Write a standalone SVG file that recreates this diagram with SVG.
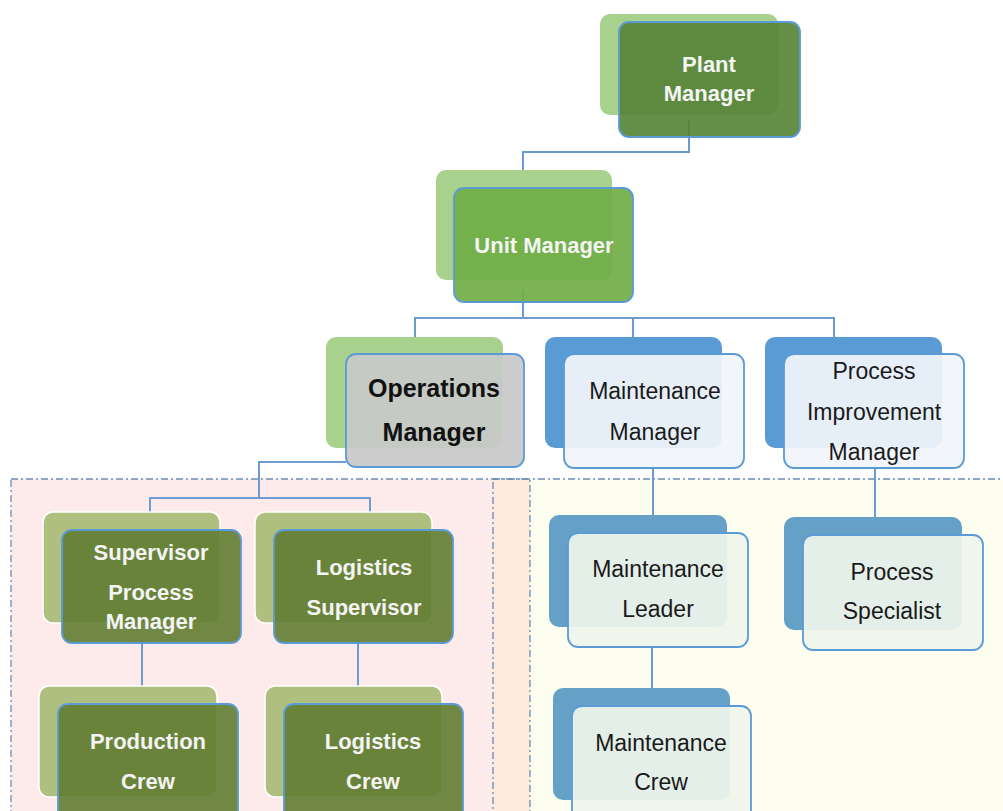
<svg xmlns="http://www.w3.org/2000/svg" width="1003" height="811" viewBox="0 0 1003 811">
<style>
.bord{stroke:#6A8DB5;stroke-width:1.3;stroke-dasharray:7 3 2 3;}
.ln{fill:none;stroke:#6B9BD0;stroke-width:2;}
.front{stroke:#5B9BD5;stroke-width:1.8;}
.bgreen{fill:#A9D18E;}
.bolive{fill:#AEBF80;stroke:#FFFFFF;stroke-width:1.5;}
.bblue{fill:#5B9BD5;}
.bblue2{fill:#65A0C7;}
.fdark{fill:#548235;fill-opacity:0.9;}
.funit{fill:#70AD47;fill-opacity:0.92;}
.fgray{fill:#C9C9C9;fill-opacity:0.92;}
.folive{fill:#627C32;fill-opacity:0.9;}
.flight{fill:#F1F5FB;fill-opacity:0.93;}
.flight2{fill:#EFF5EC;fill-opacity:0.93;}
.tw{font-family:"Liberation Sans",Arial,sans-serif;font-weight:bold;font-size:22px;fill:#F4F4F4;text-anchor:middle;}
.tb{font-family:"Liberation Sans",Arial,sans-serif;font-weight:bold;font-size:25px;fill:#111111;text-anchor:middle;}
.tr{font-family:"Liberation Sans",Arial,sans-serif;font-size:23px;fill:#1A1A1A;text-anchor:middle;}
</style>
<rect x="0" y="0" width="1003" height="811" fill="#FFFFFF"/>
<g id="regions">
<rect x="11" y="479" width="519" height="340" fill="#FDEBEB"/>
<rect x="530" y="479" width="480" height="340" fill="#FEFEF0"/>
<rect x="493" y="479" width="37" height="340" fill="#FCEADC"/>
<rect x="11" y="479" width="519" height="340" fill="none" class="bord"/>
<rect x="493" y="479" width="520" height="340" fill="none" class="bord"/>
</g>
<g id="connectors">
<polyline class="ln" points="689,120 689,152 523,152 523,172"/>
<polyline class="ln" points="523,290 523,318"/>
<polyline class="ln" points="415,339 415,318 834,318 834,339"/>
<line class="ln" x1="633" y1="318" x2="633" y2="339"/>
<polyline class="ln" points="346,462 259,462 259,498"/>
<polyline class="ln" points="150,514 150,498 370,498 370,514"/>
<line class="ln" x1="142" y1="640" x2="142" y2="688"/>
<line class="ln" x1="358" y1="640" x2="358" y2="688"/>
<line class="ln" x1="653" y1="466" x2="653" y2="516"/>
<line class="ln" x1="875" y1="466" x2="875" y2="518"/>
<line class="ln" x1="652" y1="645" x2="652" y2="690"/>
</g>
<g id="plant-manager">
<rect class="bgreen" x="600" y="14" width="178" height="101" rx="10"/>
<rect class="front fdark" x="619" y="22" width="181" height="115" rx="10"/>
<text class="tw" x="709" y="72">Plant</text>
<text class="tw" x="709" y="101">Manager</text>
</g>
<g id="unit-manager">
<rect class="bgreen" x="436" y="170" width="176" height="110" rx="10"/>
<rect class="front funit" x="454" y="188" width="179" height="114" rx="10"/>
<text class="tw" x="544" y="253">Unit Manager</text>
</g>
<g id="operations-manager">
<rect class="bgreen" x="326" y="337" width="177" height="111" rx="10"/>
<rect class="front fgray" x="346" y="354" width="178" height="113" rx="10"/>
<text class="tb" x="434" y="397">Operations</text>
<text class="tb" x="434" y="441">Manager</text>
</g>
<g id="maintenance-manager">
<rect class="bblue" x="545" y="337" width="177" height="111" rx="10"/>
<rect class="front flight" x="564" y="354" width="180" height="114" rx="10"/>
<text class="tr" x="655" y="399">Maintenance</text>
<text class="tr" x="655" y="440">Manager</text>
</g>
<g id="process-improvement-manager">
<rect class="bblue" x="765" y="337" width="177" height="111" rx="10"/>
<rect class="front flight" x="784" y="354" width="180" height="114" rx="10"/>
<text class="tr" x="874" y="379">Process</text>
<text class="tr" x="874" y="420">Improvement</text>
<text class="tr" x="874" y="460">Manager</text>
</g>
<g id="supervisor-process-manager">
<rect class="bolive" x="43" y="512" width="177" height="111" rx="10"/>
<rect class="front folive" x="62" y="530" width="179" height="113" rx="10"/>
<text class="tw" x="151" y="560">Supervisor</text>
<text class="tw" x="151" y="600">Process</text>
<text class="tw" x="151" y="629">Manager</text>
</g>
<g id="logistics-supervisor">
<rect class="bolive" x="255" y="512" width="177" height="111" rx="10"/>
<rect class="front folive" x="274" y="530" width="179" height="113" rx="10"/>
<text class="tw" x="364" y="575">Logistics</text>
<text class="tw" x="364" y="615">Supervisor</text>
</g>
<g id="production-crew">
<rect class="bolive" x="39" y="686" width="178" height="111" rx="10"/>
<rect class="front folive" x="58" y="704" width="180" height="120" rx="10"/>
<text class="tw" x="148" y="749">Production</text>
<text class="tw" x="148" y="789">Crew</text>
</g>
<g id="logistics-crew">
<rect class="bolive" x="265" y="686" width="177" height="111" rx="10"/>
<rect class="front folive" x="284" y="704" width="179" height="120" rx="10"/>
<text class="tw" x="373" y="749">Logistics</text>
<text class="tw" x="373" y="789">Crew</text>
</g>
<g id="maintenance-leader">
<rect class="bblue2" x="549" y="515" width="178" height="112" rx="10"/>
<rect class="front flight2" x="568" y="533" width="180" height="114" rx="10"/>
<text class="tr" x="658" y="577">Maintenance</text>
<text class="tr" x="658" y="617">Leader</text>
</g>
<g id="process-specialist">
<rect class="bblue2" x="784" y="517" width="178" height="113" rx="10"/>
<rect class="front flight2" x="803" y="535" width="180" height="115" rx="10"/>
<text class="tr" x="892" y="580">Process</text>
<text class="tr" x="892" y="619">Specialist</text>
</g>
<g id="maintenance-crew">
<rect class="bblue2" x="553" y="688" width="177" height="112" rx="10"/>
<rect class="front flight2" x="572" y="706" width="179" height="120" rx="10"/>
<text class="tr" x="661" y="751">Maintenance</text>
<text class="tr" x="661" y="790">Crew</text>
</g>
</svg>
